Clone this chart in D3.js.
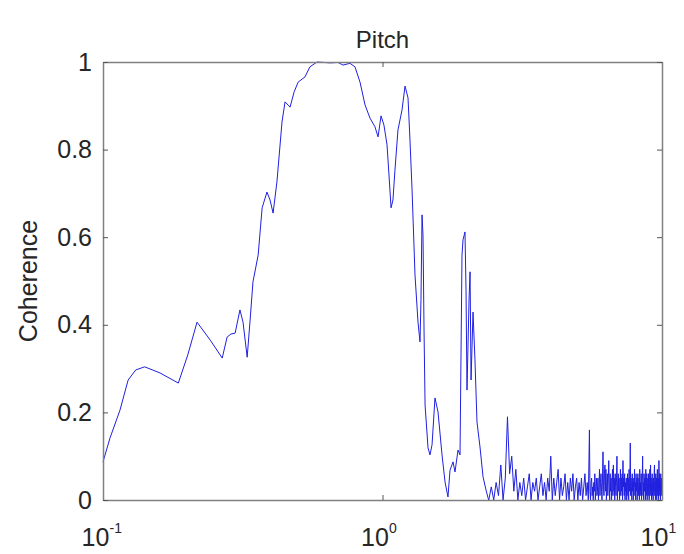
<!DOCTYPE html>
<html>
<head>
<meta charset="utf-8">
<script src="https://cdn.jsdelivr.net/npm/d3@7"></script>
<style>
  body { margin: 0; background: #fff; }
  text { font-family: "Liberation Sans", Arial, sans-serif; fill: #262626; }
</style>
</head>
<body>
<script>
// coherence estimate (low frequency part)
const freqMain = [0.100,0.106,0.115,0.123,0.131,0.141,0.160,0.186,0.201,0.217,
  0.242,0.267,0.278,0.287,0.297,0.309,0.317,0.328,0.336,0.344,
  0.359,0.371,0.386,0.396,0.406,0.419,0.437,0.448,0.467,0.483,
  0.499,0.528,0.550,0.583,0.618,0.649,0.693,0.722,0.765,0.797,
  0.831,0.866,0.902,0.940,0.964,0.988,1.012,1.038,1.055,1.073,
  1.090,1.108,1.136,1.174,1.204,1.234,1.254,1.275,1.307,1.340,
  1.362,1.373,1.385,1.396,1.408,1.420,1.455,1.479,1.504,1.541,
  1.580,1.633,1.674,1.715,1.744,1.788,1.817,1.863,1.894,1.925,
  1.941,1.973,1.990,2.006,2.040,2.057,2.074,2.108,2.142,2.178,
  2.233,2.289,2.346,2.385];
const cohMain = [0.087,0.142,0.205,0.274,0.297,0.304,0.290,0.267,0.331,0.406,
  0.365,0.324,0.372,0.379,0.381,0.434,0.406,0.326,0.411,0.498,
  0.559,0.667,0.703,0.685,0.655,0.726,0.863,0.909,0.897,0.932,
  0.954,0.966,0.989,1.000,0.999,0.998,0.999,0.993,0.997,0.989,
  0.954,0.902,0.872,0.852,0.829,0.877,0.856,0.811,0.742,0.667,
  0.685,0.753,0.845,0.890,0.945,0.918,0.822,0.712,0.514,0.406,
  0.361,0.457,0.651,0.605,0.388,0.217,0.119,0.103,0.126,0.233,
  0.201,0.103,0.041,0.007,0.068,0.087,0.064,0.114,0.103,0.559,
  0.594,0.612,0.479,0.251,0.457,0.521,0.274,0.429,0.320,0.178,
  0.121,0.053,0.023,0.005];

// noisy tail, 2.4 - 5.45 Hz
const freqTailA = [2.40,2.45,2.50,2.55,2.60,2.65,2.70,2.75,2.80,2.85,
  2.90,2.95,3.00,3.05,3.10,3.15,3.20,3.25,3.30,3.35,
  3.40,3.45,3.50,3.55,3.60,3.65,3.70,3.75,3.80,3.85,
  3.90,3.95,4.00,4.05,4.10,4.15,4.20,4.25,4.30,4.35,
  4.40,4.45,4.50,4.55,4.60,4.65,4.70,4.75,4.80,4.85,
  4.90,4.95,5.00,5.05,5.10,5.15,5.20,5.25,5.30,5.35,
  5.40,5.45];
const cohTailA = [0.00,0.03,0.00,0.04,0.01,0.08,0.00,0.05,0.19,0.06,
  0.10,0.02,0.07,0.00,0.04,0.01,0.05,0.00,0.03,0.06,
  0.00,0.04,0.02,0.05,0.00,0.03,0.06,0.01,0.04,0.00,
  0.05,0.02,0.10,0.00,0.05,0.01,0.04,0.07,0.00,0.05,
  0.01,0.03,0.06,0.00,0.04,0.00,0.05,0.02,0.06,0.00,
  0.03,0.05,0.00,0.04,0.01,0.05,0.00,0.03,0.06,0.01,
  0.04,0.00];

// noisy tail, 5.5 - 10 Hz (denser on the log axis)
const freqTailB = [5.500,5.525,5.550,5.575,5.600,5.625,5.650,5.675,
  5.700,5.725,5.750,5.775,5.800,5.825,5.850,5.875,
  5.900,5.925,5.950,5.975,6.000,6.025,6.050,6.075,
  6.100,6.125,6.150,6.175,6.200,6.225,6.250,6.275,
  6.300,6.325,6.350,6.375,6.400,6.425,6.450,6.475,
  6.500,6.525,6.550,6.575,6.600,6.625,6.650,6.675,
  6.700,6.725,6.750,6.775,6.800,6.825,6.850,6.875,
  6.900,6.925,6.950,6.975,7.000,7.025,7.050,7.075,
  7.100,7.125,7.150,7.175,7.200,7.225,7.250,7.275,
  7.300,7.325,7.350,7.375,7.400,7.425,7.450,7.475,
  7.500,7.525,7.550,7.575,7.600,7.625,7.650,7.675,
  7.700,7.725,7.750,7.775,7.800,7.825,7.850,7.875,
  7.900,7.925,7.950,7.975,8.000,8.025,8.050,8.075,
  8.100,8.125,8.150,8.175,8.200,8.225,8.250,8.275,
  8.300,8.325,8.350,8.375,8.400,8.425,8.450,8.475,
  8.500,8.525,8.550,8.575,8.600,8.625,8.650,8.675,
  8.700,8.725,8.750,8.775,8.800,8.825,8.850,8.875,
  8.900,8.925,8.950,8.975,9.000,9.025,9.050,9.075,
  9.100,9.125,9.150,9.175,9.200,9.225,9.250,9.275,
  9.300,9.325,9.350,9.375,9.400,9.425,9.450,9.475,
  9.500,9.525,9.550,9.575,9.600,9.625,9.650,9.675,
  9.700,9.725,9.750,9.775,9.800,9.825,9.850,9.875,
  9.900,9.925,9.950,9.975,10.000];
const cohTailB = [0.16,0.02,0.00,0.04,0.05,0.01,0.03,0.00,
  0.04,0.02,0.06,0.00,0.03,0.05,0.01,0.02,
  0.05,0.00,0.03,0.07,0.01,0.04,0.06,0.02,
  0.00,0.05,0.11,0.03,0.01,0.06,0.08,0.02,
  0.07,0.00,0.04,0.06,0.01,0.05,0.09,0.03,
  0.00,0.06,0.02,0.05,0.00,0.04,0.07,0.01,
  0.08,0.02,0.05,0.00,0.06,0.03,0.01,0.05,
  0.10,0.00,0.04,0.06,0.02,0.05,0.00,0.03,
  0.07,0.01,0.05,0.02,0.06,0.00,0.09,0.03,
  0.05,0.01,0.06,0.00,0.04,0.02,0.05,0.00,
  0.03,0.06,0.01,0.05,0.00,0.07,0.02,0.04,
  0.13,0.01,0.05,0.03,0.00,0.06,0.02,0.04,
  0.00,0.05,0.03,0.07,0.01,0.04,0.00,0.06,
  0.02,0.05,0.00,0.04,0.06,0.01,0.03,0.05,
  0.00,0.07,0.02,0.04,0.01,0.06,0.00,0.03,
  0.05,0.10,0.01,0.04,0.00,0.06,0.02,0.05,
  0.03,0.00,0.07,0.01,0.04,0.06,0.00,0.03,
  0.05,0.01,0.06,0.02,0.00,0.04,0.07,0.01,
  0.08,0.02,0.05,0.00,0.03,0.06,0.01,0.04,
  0.00,0.05,0.02,0.06,0.08,0.01,0.04,0.00,
  0.06,0.02,0.05,0.00,0.04,0.07,0.01,0.03,
  0.05,0.00,0.09,0.02,0.06,0.01,0.04,0.00,
  0.06,0.02,0.05,0.01,0.03];

const xTickExps = [-1, 0, 1];
const yTicks = [0, 0.2, 0.4, 0.6, 0.8, 1];
const titleText = 'Pitch';
const yLabel = 'Coherence';

const width = 684, height = 554;
const margin = {top: 62, right: 22, bottom: 54, left: 103};

const toPoints = (fs, cs) => fs.map((f, i) => ({f: f, c: cs[i]}));
const points = toPoints(freqMain, cohMain)
  .concat(toPoints(freqTailA, cohTailA))
  .concat(toPoints(freqTailB, cohTailB));

const x = d3.scaleLog().domain([0.1, 10]).range([margin.left, width - margin.right]);
const y = d3.scaleLinear().domain([0, 1]).range([height - margin.bottom, margin.top]);

const svg = d3.select('body').append('svg')
  .attr('width', width)
  .attr('height', height);

// the curve
svg.append('path')
  .datum(points)
  .attr('fill', 'none')
  .attr('stroke', '#2020e0')
  .attr('stroke-width', 1)
  .attr('d', d3.line().x(d => x(d.f)).y(d => y(d.c)));

// axes, matlab style: ticks inside on all four sides
const tickVals = xTickExps.map(e => Math.pow(10, e));
const axisColor = '#808080';

const gBottom = svg.append('g')
  .attr('transform', `translate(0,${height - margin.bottom})`)
  .call(d3.axisBottom(x).tickValues(tickVals).tickSizeInner(-5).tickSizeOuter(0));
const gTop = svg.append('g')
  .attr('transform', `translate(0,${margin.top})`)
  .call(d3.axisTop(x).tickValues(tickVals).tickSizeInner(-5).tickSizeOuter(0).tickFormat(''));
const gLeft = svg.append('g')
  .attr('transform', `translate(${margin.left},0)`)
  .call(d3.axisLeft(y).tickValues(yTicks).tickSizeInner(-5).tickSizeOuter(0).tickPadding(11)
    .tickFormat(d => d === 0 || d === 1 ? d3.format('d')(d) : d3.format('.1f')(d)));
const gRight = svg.append('g')
  .attr('transform', `translate(${width - margin.right},0)`)
  .call(d3.axisRight(y).tickValues(yTicks).tickSizeInner(-5).tickSizeOuter(0).tickFormat(''));

[gBottom, gTop, gLeft, gRight].forEach(g => {
  g.select('.domain').attr('stroke', axisColor).attr('stroke-width', 1.5);
  g.selectAll('.tick line').attr('stroke', '#555');
});

gLeft.selectAll('.tick text')
  .attr('font-size', 25)
  .attr('font-family', '"Liberation Sans", Arial, sans-serif')
  .attr('fill', '#262626');

// 10^n labels with superscript
gBottom.selectAll('.tick text')
  .attr('font-size', 25)
  .attr('font-family', '"Liberation Sans", Arial, sans-serif')
  .attr('fill', '#262626')
  .attr('text-anchor', 'start')
  .attr('y', 0)
  .attr('dy', null)
  .each(function(d, i) {
    const t = d3.select(this);
    t.text(null);
    t.append('tspan').attr('x', -22).attr('y', 46).text('10');
    t.append('tspan').attr('x', 6).attr('y', 33).attr('font-size', 14).text(String(xTickExps[i]));
  });

// title and y label
svg.append('text')
  .attr('x', (margin.left + width - margin.right) / 2)
  .attr('y', 48)
  .attr('text-anchor', 'middle')
  .attr('font-size', 24)
  .text(titleText);

svg.append('text')
  .attr('transform', `translate(37,${(margin.top + height - margin.bottom) / 2}) rotate(-90)`)
  .attr('text-anchor', 'middle')
  .attr('font-size', 25)
  .text(yLabel);
</script>
</body>
</html>
